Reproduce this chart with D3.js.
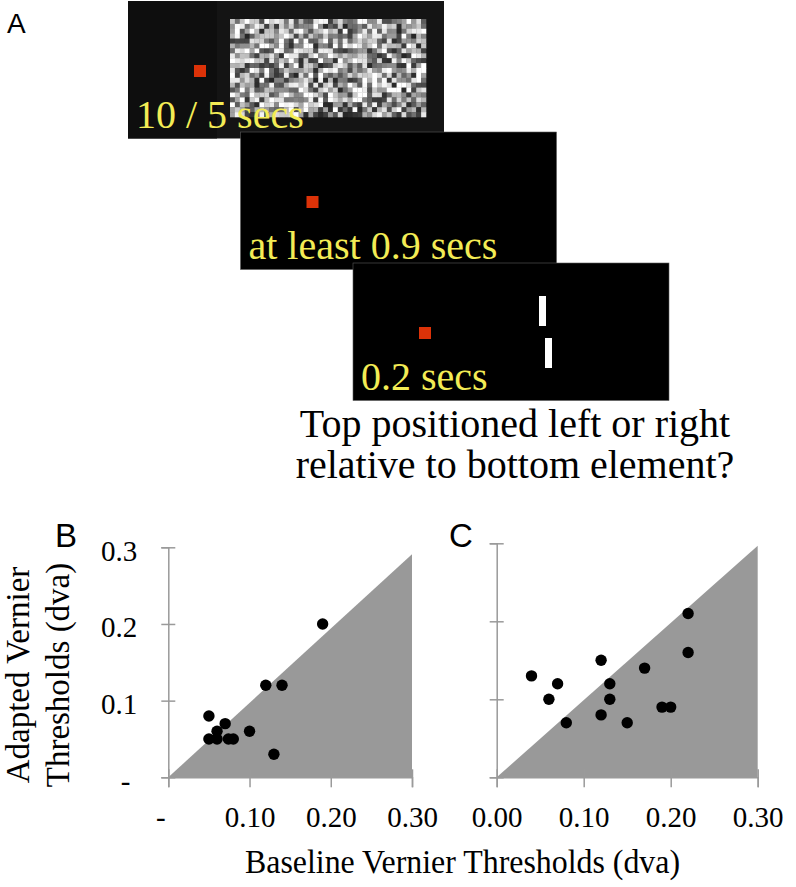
<!DOCTYPE html>
<html>
<head>
<meta charset="utf-8">
<script src="https://cdn.jsdelivr.net/npm/d3@7/dist/d3.min.js"></script>
<style>
  html, body { margin: 0; padding: 0; background: #fff; }
  svg { display: block; }
</style>
</head>
<body>
<svg id="fig" width="796" height="887"></svg>
<script>
// ---------------- DATA ----------------
const tickValues = [0, 0.1, 0.2, 0.3];
const xTickLabelsB = ["-", "0.10", "0.20", "0.30"];
const xTickLabelsC = ["0.00", "0.10", "0.20", "0.30"];
const yTickLabelsB = ["-", "0.1", "0.2", "0.3"];

// Panel B: [baseline, adapted]
const baselineB = [0.19, 0.12, 0.14, 0.05, 0.07, 0.06, 0.10, 0.05, 0.06, 0.074, 0.08, 0.13];
const adaptedB  = [0.20, 0.12, 0.12, 0.08, 0.07, 0.06, 0.06, 0.05, 0.05, 0.05, 0.05, 0.03];
// Panel C
const baselineC = [0.22, 0.22, 0.12, 0.17, 0.04, 0.07, 0.13, 0.06, 0.13, 0.19, 0.20, 0.12, 0.08, 0.15];
const adaptedC  = [0.21, 0.16, 0.15, 0.14, 0.13, 0.12, 0.12, 0.10, 0.10, 0.09, 0.09, 0.08, 0.07, 0.07];

// shaded region below identity line
const triangleB = [[0, 0], [0.3, 0], [0.3, 0.291]];
const triangleC = [[0, 0], [0.3, 0], [0.3, 0.297]];

const frameLabels = ["10 / 5 secs", "at least 0.9 secs", "0.2 secs"];
const questionLines = ["Top positioned left or right", "relative to bottom element?"];
const xTitle = "Baseline Vernier Thresholds (dva)";
const yTitleLines = ["Adapted Vernier", "Thresholds (dva)"];

// ---------------- DRAW ----------------
const svg = d3.select("#fig");
const serif = "'Liberation Serif', 'Times New Roman', serif";
const sans = "'Liberation Sans', Arial, sans-serif";
const yellow = "#f3ec55";
const red = "#dc3208";

const defs = svg.append("defs");
defs.append("filter").attr("id", "soft").attr("x", "-50%").attr("y", "-50%").attr("width", "200%").attr("height", "200%")
  .append("feGaussianBlur").attr("stdDeviation", 0.6);
defs.append("filter").attr("id", "soft2")
  .append("feGaussianBlur").attr("stdDeviation", 0.35);

// Panel A
svg.append("text").attr("x", 7).attr("y", 33).attr("font-family", sans).attr("font-size", 28).attr("fill", "#000").text("A");

const frameOrigin = {x: 128, y: 1};
const frameStep = {x: 112.5, y: 131};
const frameW = 316, frameH = 137.5;

frameLabels.forEach((lab, i) => {
  const fx = frameOrigin.x + i * frameStep.x, fy = frameOrigin.y + i * frameStep.y;
  const g = svg.append("g").attr("transform", `translate(${fx},${fy})`);
  g.append("rect").attr("width", frameW).attr("height", frameH)
    .attr("fill", i === 0 ? "#141414" : "#000").attr("stroke", i === 0 ? "none" : "#5a5a5a").attr("stroke-width", 0.6);
  if (i === 0) {
    g.append("rect").attr("width", 89).attr("height", frameH).attr("fill", "#0e0e0e");
    // noise patch (visual texture)
    const cols = 40, rows = 20, nx = 102, ny = 18, nw = 196, nh = 98;
    const cw = nw / cols, ch = nh / rows;
    let s = 12345;
    const rnd = () => { s = (s * 1103515245 + 12345) % 2147483648; return s / 2147483648; };
    const ng = g.append("g").attr("filter", "url(#soft2)");
    for (let r = 0; r < rows; r++) for (let c = 0; c < cols; c++) {
      const v = Math.round(255 * Math.min(1, Math.max(0, 0.15 + 0.95 * rnd())));
      ng.append("rect").attr("x", nx + c * cw).attr("y", ny + r * ch).attr("width", cw + 0.3).attr("height", ch + 0.3)
        .attr("fill", `rgb(${v},${v},${v})`);
    }
  }
  if (i === 2) {
    g.append("rect").attr("x", 186).attr("y", 33).attr("width", 7).attr("height", 30).attr("fill", "#fff");
    g.append("rect").attr("x", 192).attr("y", 75).attr("width", 7).attr("height", 30).attr("fill", "#fff");
  }
  g.append("rect").attr("x", 66).attr("y", 64).attr("width", 12).attr("height", 12).attr("fill", red);
  g.append("text").attr("x", 8).attr("y", 127).attr("font-family", serif).attr("font-size", 40).attr("fill", yellow).text(lab);
});

questionLines.forEach((t, i) => {
  svg.append("text").attr("x", 515).attr("y", 437 + i * 41).attr("text-anchor", "middle")
    .attr("font-family", serif).attr("font-size", 40).attr("fill", "#000").text(t);
});

// ---------------- Scatter panels ----------------
const axisColor = "#9a9a9a";
function panel(opts) {
  const x = d3.scaleLinear().domain([0, 0.3]).range(opts.xr);
  const y = d3.scaleLinear().domain([0, 0.3]).range(opts.yr);
  const g = svg.append("g");

  g.append("path").datum(opts.tri)
    .attr("d", d3.line().x(d => x(d[0])).y(d => y(d[1])).curve(d3.curveLinearClosed))
    .attr("fill", "#999999");

  const ax = g.append("g").attr("transform", `translate(0,${y(0)})`)
    .call(d3.axisBottom(x).tickValues(tickValues).tickSizeOuter(0).tickSize(10)
      .tickFormat((d, i) => opts.xLabels ? opts.xLabels[i] : ""));
  ax.selectAll(".tick line").attr("y1", -8).attr("y2", 10);
  ax.selectAll(".tick text").attr("y", 49.5).attr("dy", 0)
    .attr("dx", (d, i) => (opts.xLabels && opts.xLabels[i] === "-") ? -8 : 0);

  const ay = g.append("g").attr("transform", `translate(${x(0)},0)`)
    .call(d3.axisLeft(y).tickValues(tickValues).tickSizeOuter(0).tickSize(7)
      .tickFormat((d, i) => opts.yLabels ? opts.yLabels[i] : ""));
  ay.selectAll(".tick line").attr("x1", -7).attr("x2", 7);
  ay.selectAll(".tick text").attr("x", -31).attr("dy", 13)
    .attr("dx", (d, i) => (opts.yLabels && opts.yLabels[i] === "-") ? -7 : 0);

  [ax, ay].forEach(a => {
    a.selectAll("path.domain").attr("stroke", axisColor).attr("stroke-width", 1.5);
    a.selectAll(".tick line").attr("stroke", axisColor).attr("stroke-width", 1.5);
    a.selectAll(".tick text").attr("font-family", serif).attr("font-size", 29).attr("fill", "#000");
  });

  g.append("g").attr("filter", "url(#soft)").selectAll("circle")
    .data(opts.bx.map((v, i) => [v, opts.by[i]]))
    .join("circle")
    .attr("cx", d => x(d[0])).attr("cy", d => y(d[1])).attr("r", 5.7).attr("fill", "#000");

  svg.append("text").attr("x", opts.letterX).attr("y", 547).attr("font-family", sans)
    .attr("font-size", 33).attr("fill", "#000").text(opts.letter);
}

panel({xr: [168.3, 412], yr: [777.3, 547.3], tri: triangleB, bx: baselineB, by: adaptedB,
       xLabels: xTickLabelsB, yLabels: yTickLabelsB, letter: "B", letterX: 55});
panel({xr: [496.7, 757.7], yr: [777.3, 543.3], tri: triangleC, bx: baselineC, by: adaptedC,
       xLabels: xTickLabelsC, yLabels: null, letter: "C", letterX: 449});

// axis titles
svg.append("text").attr("x", 462.5).attr("y", 873).attr("text-anchor", "middle")
  .attr("font-family", serif).attr("font-size", 34).attr("textLength", 435).attr("lengthAdjust", "spacingAndGlyphs")
  .attr("fill", "#000").text(xTitle);

yTitleLines.forEach((t, i) => {
  svg.append("text").attr("transform", `translate(${29 + i * 40},675) rotate(-90)`)
    .attr("text-anchor", "middle").attr("font-family", serif).attr("font-size", 33).attr("fill", "#000").text(t);
});
</script>
</body>
</html>
